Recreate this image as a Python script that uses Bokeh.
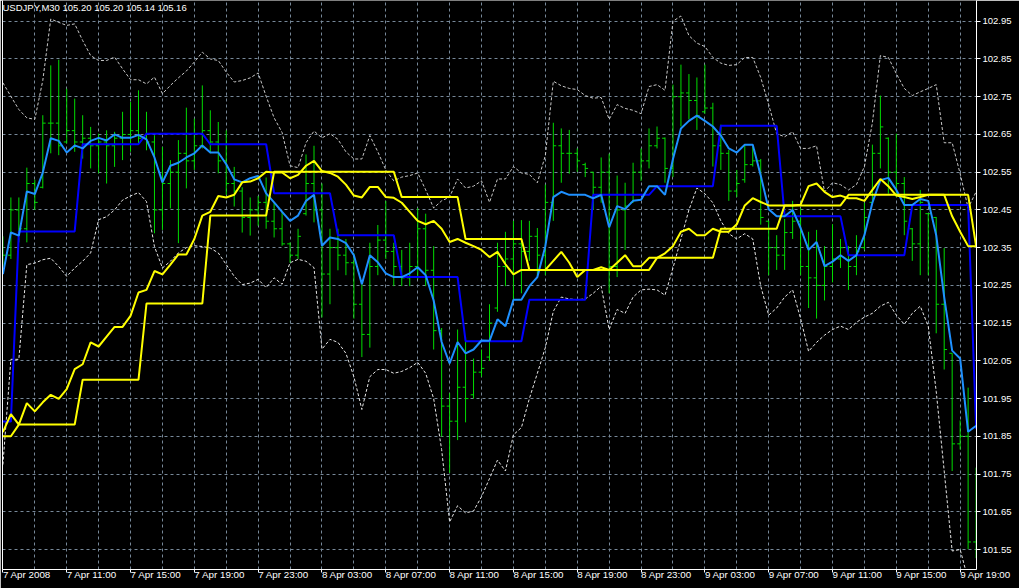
from bokeh.plotting import figure
from bokeh.models import LinearAxis, FixedTicker, Range1d, Label, ColumnDataSource, PrintfTickFormatter
from bokeh.embed import file_html
from bokeh.resources import INLINE

# ---------------- data (M30 bars, index 0 = 7 Apr 2008 07:00) ----------------
bar_index = list(range(123))

high = [102.38, 102.483, 102.483, 102.562, 102.53, 102.701, 102.833, 102.848, 102.771, 102.745,
        102.701, 102.67, 102.652, 102.661, 102.657, 102.71, 102.736, 102.767, 102.71, 102.648,
        102.617, 102.582, 102.635, 102.721, 102.692, 102.78, 102.714, 102.683, 102.661, 102.564,
        102.51, 102.483, 102.487, 102.536, 102.47, 102.448, 102.364, 102.40, 102.597, 102.62,
        102.52, 102.40, 102.40, 102.373, 102.335, 102.253, 102.363, 102.41, 102.474, 102.363,
        102.344, 102.363, 102.455, 102.44, 102.354, 102.137, 101.964, 102.133, 102.113, 102.056,
        102.08, 102.2, 102.363, 102.392, 102.421, 102.423, 102.421, 102.402, 102.517, 102.681,
        102.666, 102.662, 102.613, 102.575, 102.551, 102.589, 102.599, 102.541, 102.522, 102.575,
        102.613, 102.666, 102.671, 102.642, 102.782, 102.835, 102.81, 102.801, 102.835, 102.734,
        102.676, 102.609, 102.556, 102.623, 102.618, 102.585, 102.421, 102.383, 102.426, 102.474,
        102.455, 102.392, 102.397, 102.354, 102.412, 102.373, 102.354, 102.383, 102.469, 102.623,
        102.753, 102.642, 102.652, 102.537, 102.402, 102.503, 102.44, 102.431, 102.349, 102.07,
        101.892, 101.979, 101.767]

low = [102.30, 102.32, 102.364, 102.364, 102.45, 102.507, 102.60, 102.595, 102.626, 102.604,
       102.586, 102.56, 102.547, 102.52, 102.564, 102.582, 102.604, 102.626, 102.608, 102.388,
       102.397, 102.454, 102.362, 102.507, 102.556, 102.613, 102.60, 102.547, 102.49, 102.459,
       102.39, 102.382, 102.408, 102.40, 102.377, 102.355, 102.31, 102.32, 102.435, 102.417,
       102.165, 102.20, 102.29, 102.277, 102.162, 102.06, 102.085, 102.277, 102.32, 102.248,
       102.248, 102.248, 102.267, 102.248, 102.08, 101.849, 101.753, 101.84, 101.887, 101.95,
       102.008, 102.05, 102.18, 102.248, 102.21, 102.229, 102.315, 102.277, 102.277, 102.421,
       102.522, 102.546, 102.551, 102.537, 102.45, 102.469, 102.229, 102.272, 102.344, 102.469,
       102.527, 102.56, 102.613, 102.522, 102.537, 102.671, 102.69, 102.662, 102.705, 102.565,
       102.556, 102.474, 102.484, 102.522, 102.565, 102.411, 102.277, 102.291, 102.291, 102.373,
       102.277, 102.19, 102.162, 102.21, 102.258, 102.296, 102.238, 102.277, 102.344, 102.469,
       102.56, 102.493, 102.484, 102.383, 102.315, 102.277, 102.277, 102.123, 102.027, 101.758,
       101.815, 101.551, 101.527]

open_ = [102.36, 102.33, 102.45, 102.40, 102.52, 102.51, 102.68, 102.68, 102.63, 102.66,
         102.63, 102.64, 102.62, 102.63, 102.62, 102.64, 102.65, 102.66, 102.64, 102.63,
         102.45, 102.52, 102.55, 102.60, 102.58, 102.62, 102.66, 102.63, 102.58, 102.52,
         102.50, 102.43, 102.45, 102.47, 102.42, 102.40, 102.36, 102.33, 102.44, 102.52,
         102.45, 102.28, 102.35, 102.33, 102.31, 102.20, 102.12, 102.30, 102.37, 102.34,
         102.30, 102.27, 102.30, 102.40, 102.29, 102.13, 101.93, 101.89, 101.98, 101.96,
         102.02, 102.06, 102.19, 102.30, 102.32, 102.36, 102.34, 102.38, 102.33, 102.47,
         102.62, 102.60, 102.60, 102.57, 102.55, 102.51, 102.55, 102.30, 102.45, 102.47,
         102.55, 102.58, 102.62, 102.64, 102.56, 102.75, 102.76, 102.74, 102.71, 102.72,
         102.62, 102.60, 102.50, 102.53, 102.57, 102.58, 102.42, 102.35, 102.33, 102.39,
         102.42, 102.30, 102.27, 102.25, 102.30, 102.32, 102.35, 102.30, 102.35, 102.47,
         102.60, 102.64, 102.55, 102.52, 102.40, 102.36, 102.44, 102.43, 102.20, 102.07,
         101.83, 101.85, 101.57]

close = [102.33, 102.45, 102.40, 102.52, 102.47, 102.68, 102.68, 102.62, 102.66, 102.63,
         102.64, 102.62, 102.63, 102.62, 102.64, 102.65, 102.66, 102.64, 102.63, 102.45,
         102.52, 102.55, 102.60, 102.58, 102.62, 102.66, 102.63, 102.58, 102.52, 102.50,
         102.43, 102.45, 102.47, 102.42, 102.40, 102.36, 102.33, 102.38, 102.52, 102.45,
         102.28, 102.35, 102.33, 102.31, 102.20, 102.12, 102.30, 102.37, 102.34, 102.30,
         102.27, 102.30, 102.40, 102.29, 102.13, 101.93, 101.89, 101.98, 101.95, 102.02,
         102.03, 102.15, 102.30, 102.32, 102.36, 102.34, 102.38, 102.33, 102.47, 102.62,
         102.60, 102.60, 102.58, 102.56, 102.51, 102.55, 102.30, 102.45, 102.46, 102.55,
         102.58, 102.62, 102.64, 102.56, 102.75, 102.76, 102.74, 102.70, 102.72, 102.62,
         102.60, 102.50, 102.52, 102.57, 102.58, 102.43, 102.35, 102.33, 102.39, 102.42,
         102.30, 102.27, 102.25, 102.30, 102.32, 102.35, 102.30, 102.34, 102.43, 102.60,
         102.67, 102.55, 102.52, 102.42, 102.36, 102.47, 102.44, 102.20, 102.08, 101.83,
         101.85, 101.57, 101.55]

fast_ma = [102.28, 102.39, 102.382, 102.499, 102.492, 102.549, 102.64, 102.633, 102.602, 102.621,
           102.613, 102.633, 102.641, 102.634, 102.65, 102.641, 102.641, 102.649, 102.637, 102.589,
           102.523, 102.567, 102.575, 102.589, 102.6, 102.621, 102.602, 102.602, 102.571, 102.531,
           102.523, 102.534, 102.54, 102.494, 102.47, 102.445, 102.421, 102.435, 102.474, 102.49,
           102.355, 102.377, 102.373, 102.362, 102.33, 102.253, 102.33, 102.311, 102.282, 102.272,
           102.272, 102.282, 102.298, 102.277, 102.21, 102.1, 102.043, 102.1, 102.07, 102.08,
           102.104, 102.103, 102.16, 102.142, 102.212, 102.212, 102.248, 102.272, 102.354, 102.484,
           102.498, 102.49, 102.49, 102.49, 102.481, 102.49, 102.404, 102.46, 102.452, 102.474,
           102.477, 102.513, 102.513, 102.49, 102.585, 102.666, 102.686, 102.7, 102.686, 102.671,
           102.647, 102.613, 102.602, 102.623, 102.623, 102.541, 102.452, 102.433, 102.433, 102.45,
           102.402, 102.344, 102.365, 102.301, 102.313, 102.33, 102.315, 102.33, 102.383, 102.469,
           102.529, 102.535, 102.503, 102.463, 102.463, 102.479, 102.474, 102.383, 102.219, 102.077,
           102.056, 101.862, 101.878]

blue_step = [101.889, 101.889, 102.393, 102.393, 102.393, 102.393, 102.393, 102.393, 102.393, 102.393,
             102.624, 102.624, 102.624, 102.624, 102.624, 102.624, 102.624, 102.624, 102.652, 102.652,
             102.652, 102.652, 102.652, 102.652, 102.652, 102.652, 102.624, 102.624, 102.624, 102.624,
             102.624, 102.624, 102.624, 102.624, 102.494, 102.494, 102.494, 102.494, 102.494, 102.494,
             102.494, 102.494, 102.383, 102.383, 102.383, 102.383, 102.383, 102.383, 102.383, 102.383,
             102.272, 102.272, 102.272, 102.272, 102.272, 102.272, 102.272, 102.272, 102.102, 102.102,
             102.102, 102.102, 102.102, 102.102, 102.102, 102.102, 102.212, 102.212, 102.212, 102.212,
             102.212, 102.212, 102.212, 102.212, 102.49, 102.49, 102.49, 102.49, 102.49, 102.49,
             102.49, 102.49, 102.513, 102.513, 102.513, 102.513, 102.513, 102.513, 102.513, 102.513,
             102.673, 102.673, 102.673, 102.673, 102.673, 102.673, 102.673, 102.673, 102.433, 102.433,
             102.433, 102.433, 102.433, 102.433, 102.433, 102.433, 102.33, 102.33, 102.33, 102.33,
             102.33, 102.33, 102.33, 102.33, 102.463, 102.463, 102.463, 102.463, 102.463, 102.463,
             102.463, 102.463, 101.87]

yellow_step = [101.85, 101.85, 101.881, 101.881, 101.881, 101.881, 101.881, 101.881, 101.881, 101.881,
               102.0, 102.0, 102.0, 102.0, 102.0, 102.0, 102.0, 102.0, 102.202, 102.202,
               102.202, 102.202, 102.202, 102.202, 102.202, 102.202, 102.435, 102.435, 102.435, 102.435,
               102.435, 102.435, 102.435, 102.435, 102.551, 102.551, 102.551, 102.551, 102.551, 102.551,
               102.551, 102.551, 102.551, 102.551, 102.551, 102.551, 102.551, 102.551, 102.551, 102.551,
               102.484, 102.484, 102.484, 102.484, 102.484, 102.484, 102.484, 102.484, 102.373, 102.373,
               102.373, 102.373, 102.373, 102.373, 102.373, 102.373, 102.291, 102.291, 102.291, 102.291,
               102.291, 102.291, 102.291, 102.291, 102.291, 102.291, 102.291, 102.291, 102.291, 102.291,
               102.291, 102.291, 102.323, 102.323, 102.323, 102.323, 102.323, 102.323, 102.323, 102.323,
               102.4, 102.4, 102.4, 102.4, 102.4, 102.4, 102.4, 102.4, 102.462, 102.462,
               102.462, 102.462, 102.462, 102.462, 102.462, 102.462, 102.49, 102.49, 102.49, 102.49,
               102.49, 102.49, 102.49, 102.49, 102.49, 102.49, 102.49, 102.49, 102.49, 102.49,
               102.49, 102.49, 102.354]

yellow_ma = [101.861, 101.909, 101.881, 101.938, 101.916, 101.94, 101.96, 101.949, 101.975, 102.028,
             102.041, 102.099, 102.088, 102.114, 102.14, 102.14, 102.169, 102.231, 102.238, 102.288,
             102.279, 102.305, 102.332, 102.332, 102.373, 102.435, 102.445, 102.487, 102.483, 102.49,
             102.523, 102.525, 102.534, 102.551, 102.549, 102.549, 102.534, 102.543, 102.567, 102.58,
             102.553, 102.548, 102.538, 102.517, 102.488, 102.483, 102.511, 102.511, 102.484, 102.482,
             102.469, 102.445, 102.421, 102.412, 102.421, 102.4, 102.365, 102.373, 102.363, 102.354,
             102.344, 102.325, 102.339, 102.306, 102.279, 102.291, 102.291, 102.291, 102.291, 102.315,
             102.339, 102.31, 102.272, 102.291, 102.291, 102.298, 102.291, 102.31, 102.33, 102.301,
             102.301, 102.323, 102.323, 102.335, 102.354, 102.392, 102.4, 102.383, 102.383, 102.4,
             102.392, 102.392, 102.412, 102.462, 102.481, 102.471, 102.462, 102.462, 102.462, 102.462,
             102.464, 102.513, 102.52, 102.498, 102.484, 102.488, 102.481, 102.481, 102.474, 102.503,
             102.532, 102.513, 102.488, 102.484, 102.479, 102.484, 102.49, 102.49, 102.49, 102.433,
             102.392, 102.354, 102.354]

band_upper = [102.787, 102.751, 102.716, 102.694, 102.69, 102.793, 102.956, 102.947, 102.939, 102.943,
              102.899, 102.859, 102.846, 102.846, 102.855, 102.824, 102.795, 102.795, 102.784, 102.802,
              102.758, 102.78, 102.8, 102.818, 102.842, 102.868, 102.85, 102.846, 102.815, 102.789,
              102.793, 102.8, 102.813, 102.751, 102.694, 102.655, 102.567, 102.562, 102.628, 102.659,
              102.641, 102.652, 102.637, 102.604, 102.585, 102.585, 102.647, 102.604, 102.556, 102.527,
              102.537, 102.541, 102.548, 102.503, 102.455, 102.474, 102.484, 102.532, 102.508, 102.513,
              102.527, 102.47, 102.532, 102.532, 102.565, 102.548, 102.544, 102.522, 102.594, 102.791,
              102.779, 102.772, 102.769, 102.753, 102.746, 102.748, 102.69, 102.729, 102.719, 102.714,
              102.705, 102.777, 102.782, 102.767, 102.95, 102.964, 102.912, 102.892, 102.883, 102.854,
              102.839, 102.833, 102.835, 102.854, 102.854, 102.801, 102.729, 102.652, 102.644, 102.657,
              102.613, 102.613, 102.62, 102.498, 102.522, 102.517, 102.503, 102.517, 102.565, 102.681,
              102.859, 102.854, 102.811, 102.772, 102.753, 102.763, 102.772, 102.782, 102.628, 102.628,
              102.546, 102.455, 102.498]

band_lower = [101.775, 102.054, 102.054, 102.305, 102.309, 102.318, 102.322, 102.3, 102.274, 102.296,
              102.314, 102.336, 102.424, 102.432, 102.45, 102.476, 102.487, 102.496, 102.472, 102.353,
              102.296, 102.314, 102.336, 102.35, 102.355, 102.353, 102.349, 102.336, 102.305, 102.274,
              102.252, 102.256, 102.266, 102.244, 102.27, 102.253, 102.31, 102.319, 102.314, 102.297,
              102.081, 102.107, 102.099, 102.07, 102.008, 101.921, 102.008, 102.027, 102.027, 102.017,
              102.022, 102.032, 102.046, 102.017, 101.95, 101.815, 101.623, 101.666, 101.647, 101.652,
              101.69, 101.738, 101.787, 101.758, 101.854, 101.873, 101.95, 102.017, 102.085, 102.181,
              102.219, 102.214, 102.212, 102.214, 102.229, 102.248, 102.133, 102.186, 102.176, 102.219,
              102.238, 102.24, 102.238, 102.224, 102.296, 102.373, 102.45, 102.508, 102.493, 102.469,
              102.421, 102.387, 102.373, 102.387, 102.373, 102.248, 102.171, 102.19, 102.219, 102.238,
              102.162, 102.075, 102.099, 102.118, 102.133, 102.142, 102.133, 102.152, 102.166, 102.176,
              102.195, 102.205, 102.171, 102.147, 102.176, 102.195, 102.142, 101.969, 101.758, 101.546,
              101.55, 101.47, 101.45]

time_labels = ["7 Apr 2008", "7 Apr 11:00", "7 Apr 15:00", "7 Apr 19:00", "7 Apr 23:00",
               "8 Apr 03:00", "8 Apr 07:00", "8 Apr 11:00", "8 Apr 15:00", "8 Apr 19:00",
               "8 Apr 23:00", "9 Apr 03:00", "9 Apr 07:00", "9 Apr 11:00", "9 Apr 15:00",
               "9 Apr 19:00"]
time_label_bars = [0, 8, 16, 24, 32, 40, 48, 56, 64, 72, 80, 88, 96, 104, 112, 120]
grid_bars = [0, 4, 8, 12, 16, 20, 24, 28, 32, 36, 40, 44, 48, 52, 56, 60, 64, 68, 72, 76,
             80, 84, 88, 92, 96, 100, 104, 108, 112, 116, 120]
price_ticks = [101.55, 101.65, 101.75, 101.85, 101.95, 102.05, 102.15, 102.25,
               102.35, 102.45, 102.55, 102.65, 102.75, 102.85, 102.95]
header_text = "USDJPY,M30  105.20 105.20 105.14 105.16"

# ---------------- styling ----------------
FONT = "Liberation Sans"
X0, X1 = -0.05, 122.05
Y0, Y1 = 101.497, 103.005
GREEN = "#00dc00"
GRID = "#778899"
TICK = 0.36

src = ColumnDataSource(dict(
    x=bar_index, high=high, low=low, open=open_, close=close,
    xo=[i - TICK for i in bar_index], xc=[i + TICK for i in bar_index],
    fast=fast_ma, bstep=blue_step, ystep=yellow_step, yma=yellow_ma,
    up=band_upper, dn=band_lower))

p = figure(width=1019, height=588, output_backend="svg", toolbar_location=None,
           x_range=Range1d(X0, X1), y_range=Range1d(Y0, Y1),
           x_axis_location=None, y_axis_location=None,
           background_fill_color="black", border_fill_color="black",
           outline_line_color=None,
           min_border_left=2, min_border_right=43, min_border_top=0, min_border_bottom=17)

p.xgrid.ticker = FixedTicker(ticks=grid_bars)
p.ygrid.ticker = FixedTicker(ticks=price_ticks)
p.grid.grid_line_color = GRID
p.grid.grid_line_dash = "3 3"
p.grid.grid_line_width = 1

yax = LinearAxis(ticker=FixedTicker(ticks=price_ticks), formatter=PrintfTickFormatter(format="%.2f"),
                 axis_line_color="white", major_tick_line_color="white",
                 major_tick_in=0, major_tick_out=4, minor_tick_line_color=None,
                 major_label_text_color="white", major_label_text_font=FONT,
                 major_label_text_font_size="9.5px", major_label_standoff=2)
p.add_layout(yax, "right")

# time axis: a tiny negative label angle makes Bokeh left-align the texts at their ticks
xax = LinearAxis(ticker=FixedTicker(ticks=time_label_bars),
                 major_label_overrides={b: t for b, t in zip(time_label_bars, time_labels)},
                 major_label_orientation=-1e-6,
                 axis_line_color="white", major_tick_line_color="white",
                 major_tick_in=0, major_tick_out=3, minor_tick_line_color=None,
                 major_label_text_color="white", major_label_text_font=FONT,
                 major_label_text_font_size="9.8px", major_label_standoff=2)
p.add_layout(xax, "below")

lax = LinearAxis(ticker=FixedTicker(ticks=[]), axis_line_color="white",
                 major_tick_line_color=None, minor_tick_line_color=None,
                 major_label_text_font_size="0px", major_label_standoff=0,
                 major_tick_out=0, major_tick_in=0)
p.add_layout(lax, "left")

# dotted envelope bands
p.line("x", "up", source=src, line_color="#c8c8c8", line_dash="3 2", line_width=1)
p.line("x", "dn", source=src, line_color="#e8e8e8", line_dash="3 2", line_width=1)

# OHLC bars
p.segment("x", "low", "x", "high", source=src, line_color=GREEN, line_width=1)
p.segment("xo", "open", "x", "open", source=src, line_color=GREEN, line_width=1)
p.segment("x", "close", "xc", "close", source=src, line_color=GREEN, line_width=1)

# indicator lines
p.line("x", "bstep", source=src, line_color="#0000ff", line_width=2)
p.line("x", "fast", source=src, line_color="#1e90ff", line_width=2)
p.line("x", "ystep", source=src, line_color="#ffff00", line_width=2)
p.line("x", "yma", source=src, line_color="#ffff00", line_width=2)

p.add_layout(Label(x=X0, y=Y1, x_offset=0, y_offset=-1, text=header_text,
                   text_color="white", text_font=FONT, text_font_size="9.5px",
                   text_baseline="top", text_align="left"))

open("out.html", "w").write(file_html(p, INLINE))
